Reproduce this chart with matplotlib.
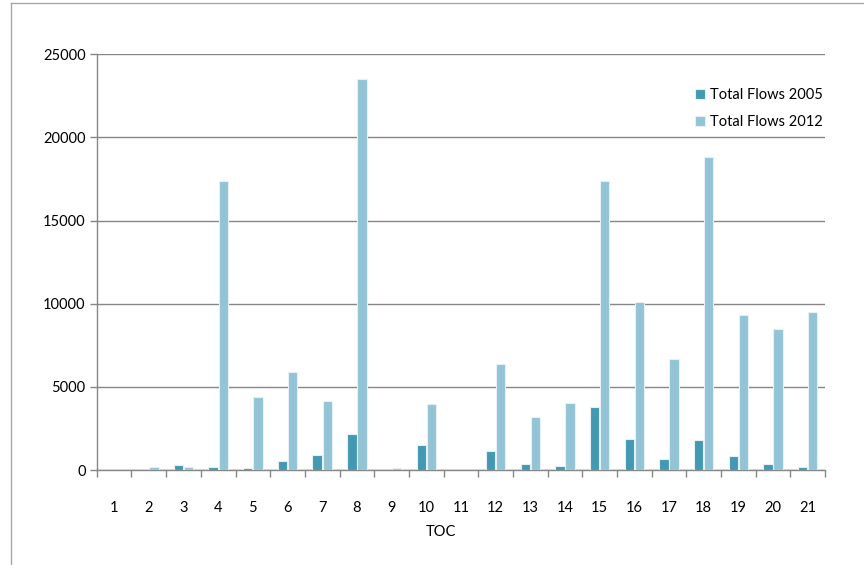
#!/usr/bin/env python

import numpy as np
import matplotlib
matplotlib.use("Agg")
import matplotlib.pyplot as plt
from matplotlib.lines import Line2D

plt.rcParams['font.family'] = ['Lato', 'DejaVu Sans']

categories = [str(i) for i in range(1, 22)]
flows_2005 = [0, 30, 280, 180, 110, 570, 900, 2160, 20, 1480, 0, 1140,
              350, 230, 3820, 1860, 660, 1800, 840, 350, 200]
flows_2012 = [0, 200, 200, 17350, 4400, 5900, 4180, 23500, 100, 3960, 30, 6370,
              3180, 4020, 17350, 10100, 6670, 18830, 9320, 8480, 9480]
y_ticks = [0, 5000, 10000, 15000, 20000, 25000]

dark = "#4399b1"
light = "#93c4d6"
grey = "#868686"

fig = plt.figure(figsize=(8.64, 5.65), dpi=100)
ax = fig.add_axes([0.112, 0.168, 0.843, 0.736])

x = np.arange(len(categories))
w = 0.27
ax.bar(x - w / 2 - 0.01, flows_2005, width=w, color=dark, edgecolor="#e6f0f4",
       linewidth=0.8, label="Total Flows 2005", zorder=3)
ax.bar(x + w / 2 + 0.01, flows_2012, width=w, color=light, edgecolor="#e6f0f4",
       linewidth=0.8, label="Total Flows 2012", zorder=3)

ax.set_xlim(-0.5, len(categories) - 0.5)
ax.set_ylim(0, 25000)
ax.set_yticks(y_ticks)
ax.yaxis.grid(True, color=grey, linewidth=1)
ax.set_axisbelow(True)

ax.set_xticks(x)
ax.set_xticklabels(categories)
ax.set_xticks(np.arange(-0.5, len(categories)), minor=True)
ax.tick_params(axis="x", which="major", length=0, pad=22, labelsize=10.5)
ax.tick_params(axis="x", which="minor", length=5, color=grey, width=1)
ax.tick_params(axis="y", length=5, color=grey, width=1, labelsize=10.5, pad=3)

for side in ["top", "right"]:
    ax.spines[side].set_visible(False)
for side in ["left", "bottom"]:
    ax.spines[side].set_color(grey)
    ax.spines[side].set_linewidth(1)

ax.legend(loc="upper left", bbox_to_anchor=(0.813, 0.932), frameon=False,
          fontsize=10.5, handlelength=0.7, handleheight=0.7, handletextpad=0.35,
          labelspacing=0.85, borderaxespad=0)

fig.text(441 / 864, 1 - 532 / 565, "TOC", ha="center", va="center", fontsize=10.5)

# outer chart frame, only partly visible in the crop
fig.add_artist(Line2D([11 / 864, 11 / 864], [0, 1 - 3 / 565], color="#a6a6a6", linewidth=1))
fig.add_artist(Line2D([11 / 864, 1], [1 - 3 / 565, 1 - 3 / 565], color="#a6a6a6", linewidth=1))

fig.savefig("out.png", dpi=100)
